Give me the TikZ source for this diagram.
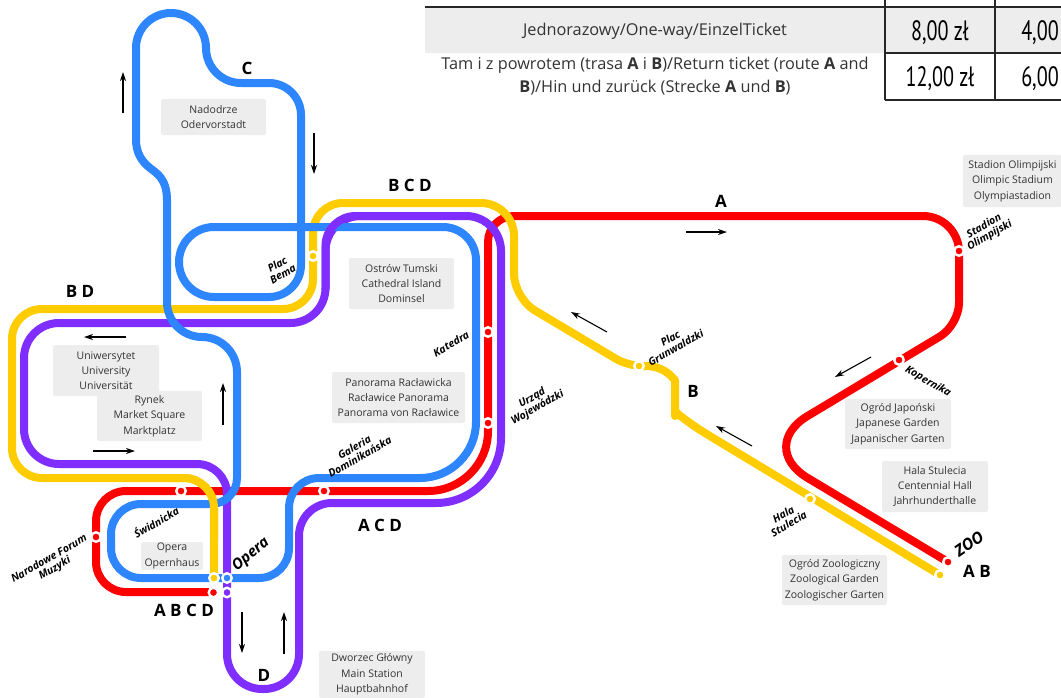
\documentclass[tikz,border=0pt]{standalone}
\usepackage{fontspec}
\usetikzlibrary{arrows.meta}
\setmainfont{Open Sans}
\newfontfamily\pricefont[FakeStretch=0.72]{PT Sans}
\definecolor{lred}{HTML}{FF0000}
\definecolor{lblue}{HTML}{2E86FF}
\definecolor{lyellow}{HTML}{FFCC00}
\definecolor{lpurple}{HTML}{7F2EFF}
\definecolor{boxgray}{HTML}{EDEDED}
\definecolor{txt}{HTML}{333333}
\tikzset{
  routeline/.style={line width=8pt,line join=round},
  infobox/.style={fill=boxgray,rounded corners=2pt,align=center,inner sep=0pt,text=txt,
    font=\fontsize{10.5}{15.3}\selectfont},
  dirarrow/.style={line width=1.1pt,black,-{Stealth[length=9pt,width=6pt]}},
  stationmark/.style={circle,draw=white,line width=2.4pt,minimum size=9.5pt,inner sep=0pt,fill=#1},
  stationname/.style={align=center,inner sep=0pt,text=black,rotate=30,
    font=\fontsize{10.5}{11}\selectfont\bfseries\itshape},
  routelabel/.style={inner sep=0pt,text=black,font=\fontsize{17}{20}\selectfont\bfseries},
  tableline/.style={line width=1.2pt,black!85},
  tabletext/.style={align=center,inner sep=0pt,text=txt,font=\fontsize{16.3}{23}\selectfont},
  price/.style={inner sep=0pt,text=black,font=\fontsize{28}{30}\selectfont\pricefont},
}
\begin{document}
\begin{tikzpicture}[x=1pt,y=-1pt]
\useasboundingbox (0,0) rectangle (1061,697);
% table
\fill[boxgray] (425,7) rectangle (1061,53);
\draw[tableline] (425,7) -- (1061,7);
\draw[tableline] (885,53) -- (1061,53);
\draw[tableline] (885,100) -- (1061,100);
\draw[tableline] (885,0) -- (885,100);
\draw[tableline] (995,0) -- (995,100);
\node[tabletext] (t1) at (655,31) {Jednorazowy/One-way/EinzelTicket};
\node[tabletext] (t2) at (655,76) {Tam i z powrotem (trasa \textbf{A} i \textbf{B})/Return ticket (route \textbf{A} and\\\textbf{B})/Hin und zurück (Strecke \textbf{A} und \textbf{B})};
\node[price] (p1) at (940,33) {8,00 zł};
\node[price] (p2) at (940,79) {12,00 zł};
\node[price] (p3) at (1040,33) {4,00};
\node[price] (p4) at (1040,79) {6,00};
% info boxes
\node[infobox,minimum width=105,minimum height=36] (b1) at (213.5,117) {Nadodrze\\Odervorstadt};
\node[infobox,minimum width=105,minimum height=51] (b2) at (401.5,283.5) {Ostrów Tumski\\Cathedral Island\\Dominsel};
\node[infobox,minimum width=133,minimum height=51] (b3) at (398.5,397.5) {Panorama Racławicka\\Racławice Panorama\\Panorama von Racławice};
\node[infobox,minimum width=106,minimum height=51] (b4) at (106,370.5) {Uniwersytet\\University\\Universität};
\node[infobox,minimum width=105,minimum height=50] (b5) at (149.5,416) {Rynek\\Market Square\\Marktplatz};
\node[infobox,minimum width=62,minimum height=28] (b6) at (172,556) {Opera\\Opernhaus};
\node[infobox,minimum width=106,minimum height=47] (b7) at (372,674.5) {Dworzec Główny\\Main Station\\Hauptbahnhof};
\node[infobox,minimum width=99,minimum height=52] (b8) at (1012.5,181) {Stadion Olimpijski\\Olimpic Stadium\\Olympiastadion};
\node[infobox,minimum width=106,minimum height=50] (b9) at (898,424) {Ogród Japoński\\Japanese Garden\\Japanischer Garten};
\node[infobox,minimum width=106,minimum height=51] (b10) at (935,486.5) {Hala Stulecia\\Centennial Hall\\Jahrhunderthalle};
\node[infobox,minimum width=105,minimum height=50] (b11) at (834.5,580) {Ogród Zoologiczny\\Zoological Garden\\Zoologischer Garten};
% red line A
\draw[routeline,lred] (948,562) [rounded corners=60pt] -- (756,447) [rounded corners=22pt] -- (959,325) [rounded corners=36pt] -- (959,216) -- (560,216);
\draw[routeline,lred,rounded corners=26pt] (560,216) -- (488,216) -- (488,350);
\draw[routeline,lred] (488,350) [rounded corners=60pt] -- (488,491) [rounded corners=30pt] -- (96,491) -- (96,592) -- (213,592);
% purple line D
\draw[routeline,lpurple] (227,600) [rounded corners=35pt] -- (227,689) -- (299,689) [rounded corners=33pt] -- (299,503) [rounded corners=65pt] -- (501,503) [rounded corners=35pt] -- (501,216) -- (325.5,216) -- (325.5,323) -- (24,323) -- (24,464) [rounded corners=30pt] -- (227,464) -- (227,600);
% yellow line
\draw[routeline,lyellow] (214,578) [rounded corners=30pt] -- (214,478) -- (12,478) -- (12,309) -- (313,309) -- (313,203) [rounded corners=33pt] -- (514,203) [rounded corners=24pt] -- (514,298) [rounded corners=14pt] -- (628,366) -- (645,366);
\draw[routeline,lyellow,rounded corners=18pt] (645,366) .. controls (668,366) and (675,382) .. (675,398) .. controls (675,408) and (679,415) .. (690,424) -- (940,575);
% blue line C
\draw[routeline,lblue] (136,140) [rounded corners=35pt] -- (136,13) -- (206,13) -- (206,83) [rounded corners=32pt] -- (301,83) -- (301,297) [rounded corners=35pt] -- (179,297) -- (179,227) [rounded corners=33pt] -- (476,227) [rounded corners=56pt] -- (476,478) [rounded corners=30pt] -- (289,478) -- (289,578) -- (111,578) -- (111,504) [rounded corners=26pt] -- (237,504) [rounded corners=35pt] -- (237,337) -- (167,337) -- (167,200);
\draw[routeline,lblue] (167,200.5) .. controls (167,178) and (156,173) .. (150,168) .. controls (141,161) and (136,152) .. (136,139.5);
% overlaps
\draw[routeline,lpurple,rounded corners=30pt] (400,216) -- (325.5,216) -- (325.5,290);
\draw[routeline,lyellow,rounded corners=30pt] (214,540) -- (214,478) -- (170,478);
% arrows
\draw[dirarrow] (123,113) -- (123,72);
\draw[dirarrow] (314,133) -- (314,174);
\draw[dirarrow] (686,232) -- (727,232);
\draw[dirarrow] (607,332) -- (571,312);
\draw[dirarrow] (752,446) -- (716,426);
\draw[dirarrow] (871,357) -- (835,377);
\draw[dirarrow] (126,337) -- (84,337);
\draw[dirarrow] (223,425) -- (223,383);
\draw[dirarrow] (93,451) -- (135,451);
\draw[dirarrow] (242,612) -- (242,653);
\draw[dirarrow] (284,654) -- (284,612);
% stations
\node[stationmark=lyellow] (s1) at (313,256) {};
\node[stationmark=lred] (s2) at (488,332) {};
\node[stationmark=lred] (s3) at (488,423) {};
\node[stationmark=lred] (s4) at (324,491) {};
\node[stationmark=lred] (s5) at (181,491) {};
\node[stationmark=lred] (s6) at (96,537) {};
\node[stationmark=lyellow] (s7) at (214,578) {};
\node[stationmark=lblue] (s8) at (227,578) {};
\node[stationmark=lred] (s9) at (213.5,592.5) {};
\node[stationmark=lpurple] (s10) at (227,592.5) {};
\node[stationmark=lyellow] (s11) at (639,366) {};
\node[stationmark=lyellow] (s12) at (810,499) {};
\node[stationmark=lred] (s13) at (899,360) {};
\node[stationmark=lred] (s14) at (959,251) {};
\node[stationmark=lred] (s15) at (948,562) {};
\node[stationmark=lyellow] (s16) at (940,575) {};
% station names
\node[stationname] (n1) at (280,269) {Plac\\Bema};
\node[stationname] (n2) at (451,344) {Katedra};
\node[stationname] (n3) at (535,403) {Urząd\\Wojewódzki};
\node[stationname] (n4) at (357,452) {Galeria\\Dominikańska};
\node[stationname] (n5) at (156,522) {Świdnicka};
\node[stationname] (n6) at (52,564) {Narodowe Forum\\Muzyki};
\node[stationname,rotate=10,font=\fontsize{15}{16}\selectfont\bfseries\itshape] (n7) at (251,555) {Opera};
\node[stationname] (n8) at (673,343) {Plac\\Grunwaldzki};
\node[stationname,rotate=-60] (n9) at (928,382) {Kopernika};
\node[stationname] (n10) at (987,231) {Stadion\\Olimpijski};
\node[stationname] (n11) at (786,519) {Hala\\Stulecia};
\node[stationname,rotate=5,font=\fontsize{16}{17}\selectfont\bfseries\itshape] (n12) at (969,544) {ZOO};
% route labels
\node[routelabel] (r1) at (247,68) {C};
\node[routelabel] (r2) at (410,185) {B C D};
\node[routelabel] (r3) at (80,291) {B D};
\node[routelabel] (r4) at (721,201) {A};
\node[routelabel] (r5) at (693,391) {B};
\node[routelabel] (r6) at (977,571) {A B};
\node[routelabel] (r7) at (380,525) {A C D};
\node[routelabel] (r8) at (184,610) {A B C D};
\node[routelabel] (r9) at (264,675) {D};
\end{tikzpicture}
\end{document}
